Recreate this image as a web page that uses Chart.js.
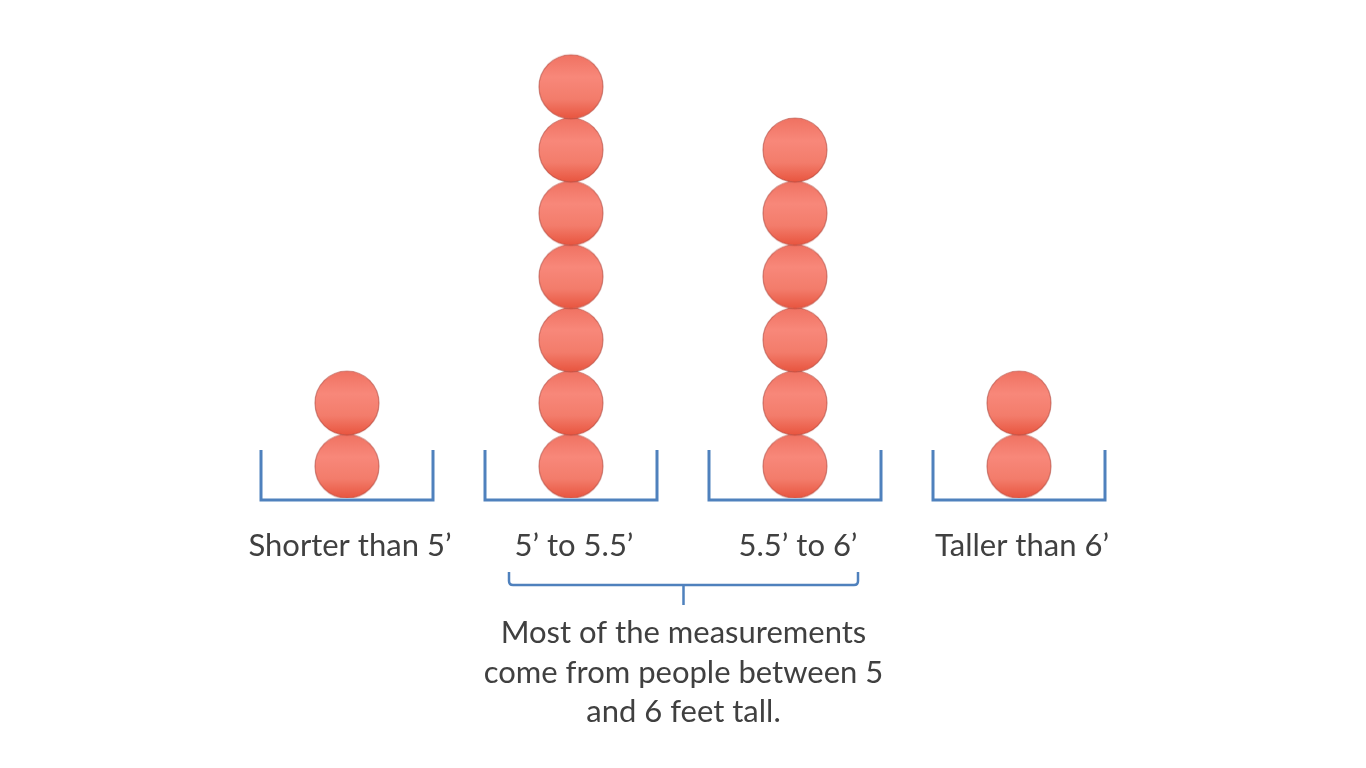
<!DOCTYPE html>
<html>
<head>
<meta charset="utf-8">
<script src="https://cdn.jsdelivr.net/npm/chart.js@4.4.1/dist/chart.umd.min.js"></script>
<style>
  html, body { margin: 0; padding: 0; background: #fff; }
  #wrap { width: 1366px; height: 768px; }
</style>
</head>
<body>
<div id="wrap"><canvas id="dots"></canvas></div>
<script>
// heights groups and how many people fell into each
var categories = ["Shorter than 5\u2019", "5\u2019 to 5.5\u2019", "5.5\u2019 to 6\u2019", "Taller than 6\u2019"];
var counts = [2, 7, 6, 2];
var noteLines = ["Most of the measurements", "come from people between 5", "and 6 feet tall."];
var noteFrom = 1, noteTo = 2; // the groups the big bracket spans

var blue = '#4f81bd';
var textCol = '#404040';
var font = '31px Lato, "Open Sans", sans-serif';

// one point per person, stacked on top of each other
var points = [];
counts.forEach(function (n, i) {
  for (var k = 0; k < n; k++) points.push({ x: categories[i], y: k + 0.5 });
});

// shaded ball used as the point style
function makeBall(r) {
  var c = document.createElement('canvas');
  c.width = c.height = r * 2 + 4;
  var g = c.getContext('2d');
  var cx = r + 2;
  var grad = g.createLinearGradient(0, 2, 0, 2 * r + 2);
  grad.addColorStop(0, '#f07262');
  grad.addColorStop(0.35, '#f8887a');
  grad.addColorStop(0.7, '#f37c6b');
  grad.addColorStop(1, '#e8553f');
  g.beginPath();
  g.arc(cx, cx, r, 0, Math.PI * 2);
  g.fillStyle = grad;
  g.fill();
  g.lineWidth = 1.2;
  g.strokeStyle = 'rgba(170,60,50,0.55)';
  g.stroke();
  return c;
}
var ball = makeBall(32);

var bracketsPlugin = {
  id: 'brackets',
  afterDraw: function (chart) {
    var ctx = chart.ctx;
    var xs = chart.scales.x, ys = chart.scales.y;
    var base = ys.getPixelForValue(0) + 2;
    ctx.save();
    ctx.strokeStyle = blue;
    ctx.lineWidth = 3;
    ctx.lineJoin = 'miter';
    ctx.fillStyle = textCol;
    ctx.font = font;
    ctx.textAlign = 'center';
    ctx.textBaseline = 'middle';
    categories.forEach(function (c, i) {
      var cx = xs.getPixelForValue(i);
      ctx.beginPath();
      ctx.moveTo(cx - 86, base - 50);
      ctx.lineTo(cx - 86, base);
      ctx.lineTo(cx + 86, base);
      ctx.lineTo(cx + 86, base - 50);
      ctx.stroke();
      ctx.fillText(c, cx + 3, base + 46);
    });

    // bracket under the two middle groups
    var l = xs.getPixelForValue(noteFrom) - 62;
    var r = xs.getPixelForValue(noteTo) + 63;
    var mid = (l + r) / 2;
    var top = base + 72, line = base + 85;
    ctx.lineWidth = 2.5;
    ctx.beginPath();
    ctx.moveTo(l, top);
    ctx.lineTo(l, line - 4);
    ctx.quadraticCurveTo(l, line, l + 4, line);
    ctx.lineTo(r - 4, line);
    ctx.quadraticCurveTo(r, line, r, line - 4);
    ctx.lineTo(r, top);
    ctx.moveTo(mid, line);
    ctx.lineTo(mid, line + 20);
    ctx.stroke();

    noteLines.forEach(function (t, j) {
      ctx.fillText(t, mid, base + 133 + j * 39.5);
    });
    ctx.restore();
  }
};

new Chart(document.getElementById('dots'), {
  type: 'scatter',
  data: {
    labels: categories,
    datasets: [{
      data: points,
      pointStyle: ball,
      pointRadius: 32,
      pointHoverRadius: 32
    }]
  },
  options: {
    responsive: true,
    maintainAspectRatio: false,
    animation: false,
    events: [],
    layout: { padding: { left: 235, right: 235, top: 19, bottom: 270 } },
    plugins: { legend: { display: false }, tooltip: { enabled: false } },
    scales: {
      x: { type: 'category', offset: true, display: false },
      y: { type: 'linear', min: 0, max: 7.35, display: false }
    }
  },
  plugins: [bracketsPlugin]
});
</script>
</body>
</html>
